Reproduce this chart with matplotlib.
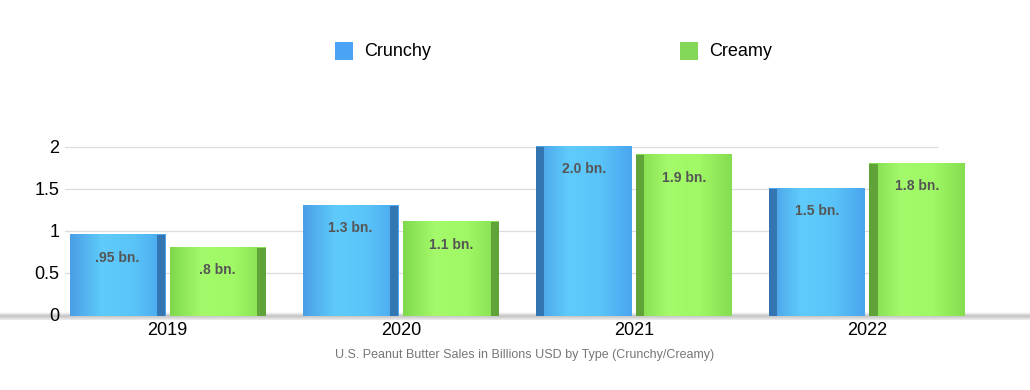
import matplotlib
matplotlib.use("Agg")
import matplotlib.pyplot as plt
import numpy as np
from matplotlib.colors import LinearSegmentedColormap
from matplotlib.patches import Rectangle

years = ["2019", "2020", "2021", "2022"]
crunchy = [0.95, 1.3, 2.0, 1.5]
creamy = [0.8, 1.1, 1.9, 1.8]
crunchy_labels = [".95 bn.", "1.3 bn.", "2.0 bn.", "1.5 bn."]
creamy_labels = [".8 bn.", "1.1 bn.", "1.9 bn.", "1.8 bn."]
yticks = [0, 0.5, 1, 1.5, 2]
ytick_labels = ["0", "0.5", "1", "1.5", "2"]
caption = "U.S. Peanut Butter Sales in Billions USD by Type (Crunchy/Creamy)"

plt.rcParams['font.family'] = ['Liberation Sans', 'DejaVu Sans']

fig = plt.figure(figsize=(10.3, 3.9), dpi=100)
ax = fig.add_axes([65/1030, 71/390, 900/1030, 176.4/390])
ax.set_xlim(-0.44, 3.42)
ax.set_ylim(-0.05, 2.05)

for s in ax.spines.values():
    s.set_visible(False)

for yv in yticks[1:]:
    ax.plot([-0.44, 3.3], [yv, yv], color="#dcdcdc", lw=0.9, zorder=0)

# floor shadow
floor_cmap = LinearSegmentedColormap.from_list("floor", ["#ffffff", "#c4c4c4", "#eeeeee"])
grad = np.linspace(0, 1, 50).reshape(-1, 1)
ax.imshow(grad, extent=(-0.72, 3.9, -0.06, 0.03), aspect="auto", cmap=floor_cmap,
          zorder=0.5, clip_on=False)

blue_cmap = LinearSegmentedColormap.from_list("b", ["#4a9fe6", "#5fcbfb", "#5ac4f9", "#4aa6ee"])
green_cmap = LinearSegmentedColormap.from_list("g", ["#80d94c", "#a4fa6a", "#a0f866", "#86dd50"])
hgrad = np.linspace(0, 1, 100).reshape(1, -1)

w = 0.41
gap = 0.02
x = np.arange(len(years))

def draw_bar(xc, h, cmap, side_col, side_left, label):
    r = Rectangle((xc - w/2, 0), w, h, facecolor="none", edgecolor="none")
    ax.add_patch(r)
    ax.imshow(hgrad, extent=(xc - w/2, xc + w/2, -0.02, h), aspect="auto",
              cmap=cmap, zorder=2)
    sw = 0.035
    sx = xc - w/2 if side_left else xc + w/2 - sw
    ax.add_patch(Rectangle((sx, -0.02), sw, h + 0.02, facecolor=side_col,
                           edgecolor="none", zorder=3, alpha=0.85))
    ax.text(xc, h - 0.27, label, ha="center", va="center", fontsize=10,
            fontweight="bold", color="#555555", zorder=4)

for i in range(len(years)):
    left_side = i >= 2
    draw_bar(x[i] - w/2 - gap/2, crunchy[i], blue_cmap, "#2f6ea8", left_side, crunchy_labels[i])
    draw_bar(x[i] + w/2 + gap/2, creamy[i], green_cmap, "#5a9a35", left_side, creamy_labels[i])

ax.set_yticks(yticks)
ax.set_yticklabels(ytick_labels, fontsize=13)
ax.set_xticks(x)
ax.set_xticklabels(years, fontsize=13)
ax.tick_params(axis="both", length=0)
ax.tick_params(axis="x", pad=2)
ax.tick_params(axis="y", pad=4)

# legend
fig.patches.append(Rectangle((335/1030, 1 - 60/390), 18/1030, 18/390,
                             transform=fig.transFigure, facecolor="#4aa3f5", edgecolor="none"))
fig.text(364/1030, 1 - 51/390, "Crunchy", fontsize=13, va="center", ha="left")
fig.patches.append(Rectangle((680/1030, 1 - 60/390), 18/1030, 18/390,
                             transform=fig.transFigure, facecolor="#84d656", edgecolor="none"))
fig.text(709/1030, 1 - 51/390, "Creamy", fontsize=13, va="center", ha="left")

fig.text(525/1030, 1 - 355/390, caption, fontsize=9, color="#777777", ha="center", va="center")

fig.savefig("out.png", dpi=100)
